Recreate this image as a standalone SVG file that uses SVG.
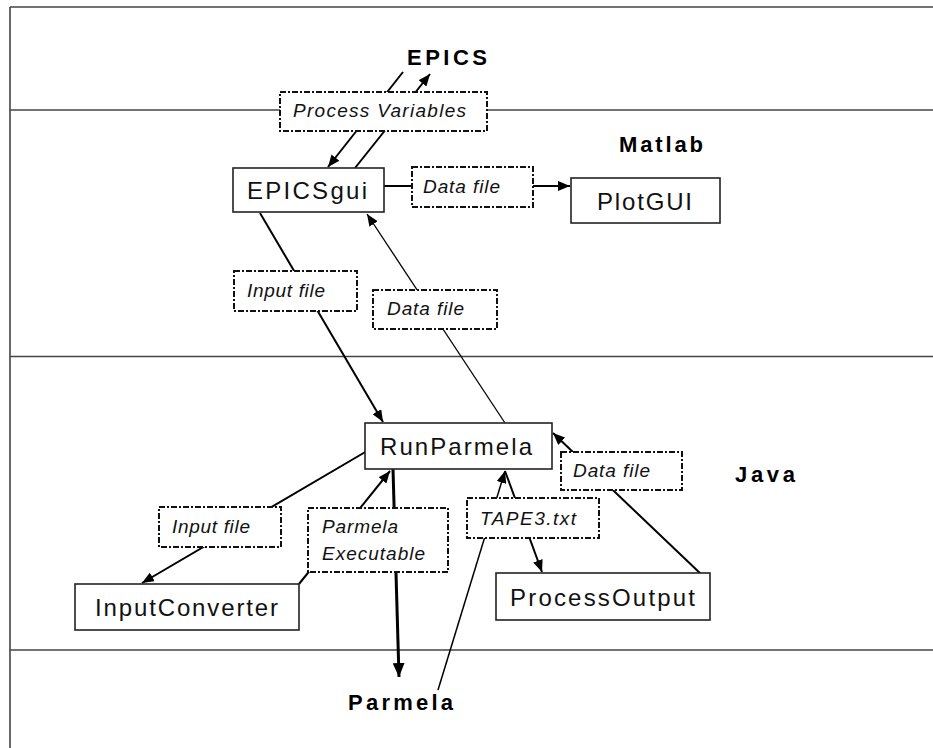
<svg xmlns="http://www.w3.org/2000/svg" width="933" height="748" viewBox="0 0 933 748">
<style>
.lane{stroke:#444;stroke-width:1.6;fill:none}
.node rect{fill:#fff;stroke:#222;stroke-width:1.6}
.node text{font-family:"Liberation Sans",Arial,sans-serif;font-size:24px;fill:#111}
.lbl rect{fill:#fff;stroke:#111;stroke-width:2;stroke-dasharray:6 2 2 2}
.lbl text{font-family:"Liberation Sans",Arial,sans-serif;font-size:19px;font-style:italic;fill:#111}
.sys{font-family:"Liberation Sans",Arial,sans-serif;font-size:22px;font-weight:bold;fill:#000}
.c{stroke:#000;fill:none;stroke-width:2;marker-end:url(#ah)}
</style>
<defs>
<marker id="ah" markerUnits="userSpaceOnUse" markerWidth="12" markerHeight="10" refX="12" refY="5" orient="auto">
<path d="M0,0 L12,5 L0,10 z" fill="#000"/>
</marker>
<marker id="ahb" markerUnits="userSpaceOnUse" markerWidth="14" markerHeight="12" refX="14" refY="6" orient="auto">
<path d="M0,0 L14,6 L0,12 z" fill="#000"/>
</marker>
</defs>
<rect x="0" y="0" width="933" height="748" fill="#fff"/>
<g id="lanes">
<line class="lane" x1="10" y1="7" x2="933" y2="7"/>
<line class="lane" x1="10" y1="7" x2="10" y2="748"/>
<line class="lane" x1="10" y1="110" x2="933" y2="110"/>
<line class="lane" x1="10" y1="356.5" x2="933" y2="356.5"/>
<line class="lane" x1="10" y1="650" x2="933" y2="650"/>
</g>
<g id="connectors">
<line class="c" x1="403" y1="72" x2="328" y2="167"/>
<line class="c" x1="355" y1="168" x2="430" y2="74"/>
<line class="c" x1="384" y1="186" x2="570" y2="186"/>
<line class="c" x1="260" y1="213" x2="383" y2="422"/>
<line class="c" x1="505" y1="423" x2="367" y2="214" style="stroke-width:1.3"/>
<line class="c" x1="367" y1="451" x2="142" y2="583"/>
<line class="c" x1="299" y1="584" x2="390" y2="471"/>
<line class="c" x1="393" y1="469" x2="399" y2="677" style="stroke-width:3;marker-end:url(#ahb)"/>
<line class="c" x1="438" y1="690" x2="505" y2="471" style="stroke-width:1.5"/>
<line class="c" x1="505" y1="471" x2="542" y2="572"/>
<line class="c" x1="702" y1="575" x2="553" y2="433"/>
</g>
<g id="edge-labels">
<g id="lbl-pv" class="lbl"><rect x="280" y="92" width="207" height="39"/><text x="293" y="117" textLength="173">Process Variables</text></g>
<g id="lbl-data-top" class="lbl"><rect x="412" y="167" width="121" height="40"/><text x="423" y="193" textLength="77">Data file</text></g>
<g id="lbl-input-up" class="lbl"><rect x="234" y="271" width="123" height="40"/><text x="247" y="297" textLength="78">Input file</text></g>
<g id="lbl-data-mid" class="lbl"><rect x="373" y="290" width="124" height="39"/><text x="387" y="315" textLength="77">Data file</text></g>
<g id="lbl-input-low" class="lbl"><rect x="159" y="507" width="122" height="40"/><text x="172" y="533" textLength="78">Input file</text></g>
<g id="lbl-exec" class="lbl"><rect x="308" y="508" width="140" height="64"/><text x="322" y="533" textLength="76">Parmela</text><text x="322" y="560" textLength="103">Executable</text></g>
<g id="lbl-data-low" class="lbl"><rect x="561" y="452" width="121" height="38"/><text x="573" y="477" textLength="77">Data file</text></g>
<g id="lbl-tape3" class="lbl"><rect x="467" y="498" width="132" height="40"/><text x="480" y="525" textLength="96">TAPE3.txt</text></g>
</g>
<g id="EPICSgui" class="node"><rect x="233" y="168" width="151" height="44"/><text x="247" y="199" textLength="120">EPICSgui</text></g>
<g id="PlotGUI" class="node"><rect x="571" y="178" width="149" height="45"/><text x="597" y="210" textLength="95">PlotGUI</text></g>
<g id="RunParmela" class="node"><rect x="365" y="423" width="187" height="46"/><text x="380" y="455" textLength="152">RunParmela</text></g>
<g id="InputConverter" class="node"><rect x="75" y="584" width="224" height="46"/><text x="95" y="616" textLength="183">InputConverter</text></g>
<g id="ProcessOutput" class="node"><rect x="496" y="573" width="214" height="47"/><text x="510" y="606" textLength="185">ProcessOutput</text></g>
<g id="EPICS"><text class="sys" x="407" y="65" textLength="80">EPICS</text></g>
<g id="Matlab"><text class="sys" x="619" y="152" textLength="84">Matlab</text></g>
<g id="Parmela"><text class="sys" x="348" y="710" textLength="105">Parmela</text></g>
<g id="Java"><text class="sys" x="735" y="482" textLength="60">Java</text></g>
</svg>
